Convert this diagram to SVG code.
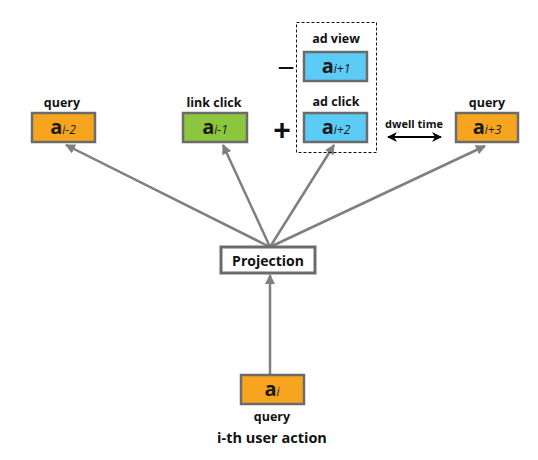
<svg xmlns="http://www.w3.org/2000/svg" width="538" height="460" viewBox="0 0 538 460">
<defs>
<style>
.lbl{font-family:"Open Sans","Liberation Sans",sans-serif;font-weight:bold;font-size:12.5px;fill:#111;text-anchor:middle}
.box{stroke:#6b6b6b;stroke-width:2.5}
.a{font-family:"Open Sans","Liberation Sans",sans-serif;font-weight:bold;font-size:20px;fill:#1a1a1a}
.sub{font-family:"Open Sans","Liberation Sans",sans-serif;font-style:italic;font-size:12px;font-weight:normal}
.conn{stroke:#7f7f7f;stroke-width:2.5;fill:none}
.op{font-family:"Liberation Sans",sans-serif;font-size:30px;fill:#111;text-anchor:middle}
</style>
<marker id="ah" viewBox="0 0 10 10" refX="9" refY="5" markerWidth="4" markerHeight="4" orient="auto-start-reverse" markerUnits="strokeWidth">
<path d="M0,0 L10,5 L0,10 z" fill="#7f7f7f"/>
</marker>
<marker id="bh" viewBox="0 0 10 10" refX="9" refY="5" markerWidth="5" markerHeight="5" orient="auto-start-reverse" markerUnits="strokeWidth">
<path d="M0,0 L10,5 L0,10 L3,5 z" fill="#000"/>
</marker>
</defs>
<rect width="538" height="460" fill="#fff"/>
<g id="connectors">
<line class="conn" x1="270" y1="247" x2="66" y2="145" marker-end="url(#ah)"/>
<line class="conn" x1="270" y1="247" x2="223" y2="145" marker-end="url(#ah)"/>
<line class="conn" x1="270" y1="247" x2="334" y2="145" marker-end="url(#ah)"/>
<line class="conn" x1="270" y1="247" x2="485" y2="146" marker-end="url(#ah)"/>
<line class="conn" x1="270" y1="375" x2="270" y2="275" marker-end="url(#ah)"/>
<line x1="388" y1="137" x2="441" y2="137" stroke="#000" stroke-width="2" marker-start="url(#bh)" marker-end="url(#bh)"/>
</g>
<g id="group-ad">
<rect x="296.5" y="22.5" width="80" height="130" fill="none" stroke="#111" stroke-width="1" stroke-dasharray="3,2"/>
</g>
<g id="node-a-i-2">
<text class="lbl" x="62" y="107">query</text>
<rect class="box" x="32" y="113" width="63" height="29" fill="#f7a51e"/>
<text class="a" x="63" y="134" text-anchor="middle">a<tspan class="sub">i-2</tspan></text>
</g>
<g id="node-a-i-1">
<text class="lbl" x="214" y="107">link click</text>
<rect class="box" x="183" y="113" width="64" height="29" fill="#8cc63e"/>
<text class="a" x="215" y="134" text-anchor="middle">a<tspan class="sub">i-1</tspan></text>
</g>
<g id="node-a-i1">
<text class="lbl" x="336" y="43">ad view</text>
<rect class="box" x="304" y="52" width="63" height="29" fill="#5ccbf5"/>
<text class="a" x="336" y="73" text-anchor="middle">a<tspan class="sub">i+1</tspan></text>
</g>
<g id="node-a-i2">
<text class="lbl" x="336" y="106">ad click</text>
<rect class="box" x="304" y="113" width="63" height="29" fill="#5ccbf5"/>
<text class="a" x="336" y="134" text-anchor="middle">a<tspan class="sub">i+2</tspan></text>
</g>
<g id="node-a-i3">
<text class="lbl" x="487" y="107">query</text>
<rect class="box" x="456" y="113" width="62" height="29" fill="#f7a51e"/>
<text class="a" x="487" y="134" text-anchor="middle">a<tspan class="sub">i+3</tspan></text>
</g>
<g id="operators">
<text class="op" x="286" y="78">−</text>
<text class="op" x="282" y="140" style="font-weight:bold">+</text>
<text class="lbl" x="414" y="128" style="font-size:11px">dwell time</text>
</g>
<g id="node-projection">
<rect x="221" y="247" width="94" height="26" fill="#fff" stroke="#6b6b6b" stroke-width="3"/>
<text class="lbl" x="268" y="266" style="font-size:14px">Projection</text>
</g>
<g id="node-a-i">
<rect class="box" x="241" y="375" width="63" height="29" fill="#f7a51e"/>
<text class="a" x="272" y="396" text-anchor="middle">a<tspan class="sub">i</tspan></text>
<text class="lbl" x="272" y="421">query</text>
<text class="lbl" x="272" y="443" style="font-size:14.5px">i-th user action</text>
</g>
</svg>
